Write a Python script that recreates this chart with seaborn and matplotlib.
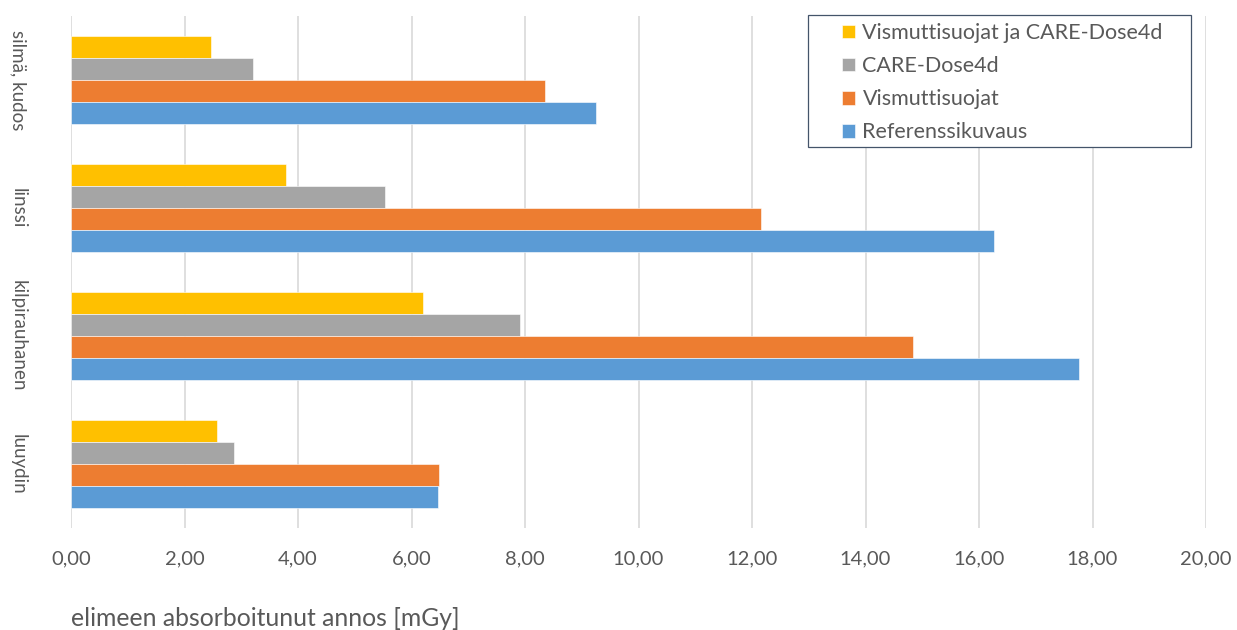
import matplotlib
matplotlib.use("Agg")
import matplotlib.pyplot as plt
import seaborn as sns
import pandas as pd
from matplotlib.patches import Rectangle
from matplotlib.ticker import FuncFormatter, MultipleLocator

organs = ["silmä, kudos", "linssi", "kilpirauhanen", "luuydin"]
series = ["Vismuttisuojat ja CARE-Dose4d", "CARE-Dose4d", "Vismuttisuojat", "Referenssikuvaus"]
vismutti_care = [2.47, 3.79, 6.20, 2.57]
care_dose = [3.20, 5.53, 7.92, 2.87]
vismutti = [8.36, 12.16, 14.83, 6.48]
referenssi = [9.25, 16.26, 17.76, 6.47]
colors = ["#FFC000", "#A5A5A5", "#ED7D31", "#5B9BD5"]

rows = []
for name, vals in zip(series, [vismutti_care, care_dose, vismutti, referenssi]):
    for organ, v in zip(organs, vals):
        rows.append({"elin": organ, "sarja": name, "annos": v})
df = pd.DataFrame(rows)

sns.set_theme(style="white")
plt.rcParams["font.family"] = ["Lato", "DejaVu Sans"]
text_color = "#595959"

W, H = 1237, 630
fig = plt.figure(figsize=(W / 100, H / 100), dpi=100)
ax = fig.add_axes([71 / W, 1 - 528 / H, (1206 - 71) / W, 512 / H])

sns.barplot(data=df, y="elin", x="annos", hue="sarja", order=organs,
            hue_order=series, palette=colors, saturation=1, orient="h",
            width=0.6875, gap=0, edgecolor="white", linewidth=0.4, ax=ax)

ax.set_xlim(0, 20)
ax.set_ylim(3.5, -0.5)
ax.xaxis.set_major_locator(MultipleLocator(2))
ax.xaxis.set_major_formatter(FuncFormatter(lambda v, p: f"{v:.2f}".replace(".", ",")))
ax.grid(axis="x", color="#D9D9D9", linewidth=1.2)
ax.grid(axis="y", visible=False)
ax.set_axisbelow(True)
for s in ax.spines.values():
    s.set_visible(False)
ax.tick_params(axis="both", length=0, colors=text_color, labelsize=14.5)
ax.tick_params(axis="x", pad=16)
ax.tick_params(axis="y", pad=38)
for lab in ax.get_yticklabels():
    lab.set_rotation(-90)
    lab.set_va("center")
    lab.set_ha("center")
    lab.set_fontsize(13.5)
ax.set_ylabel("")
ax.set_xlabel("")
fig.text(71 / W, 1 - 618 / H, "elimeen absorboitunut annos [mGy]",
         fontsize=17.8, color=text_color, ha="left", va="center")

# legend box with the entries inset from its left edge
ax.get_legend().remove()
handles, labels = ax.get_legend_handles_labels()
fig.patches.append(Rectangle((808 / W, 1 - 147 / H), (1191 - 808) / W, (147 - 15) / H,
                             transform=fig.transFigure, facecolor="white",
                             edgecolor="#44546A", linewidth=0.9, zorder=5))
leg = fig.legend(handles, labels, loc="upper left",
                 bbox_to_anchor=(842 / W, 1 - 23 / H), frameon=False,
                 fontsize=15.5, handlelength=0.6, handleheight=0.6,
                 handletextpad=0.35, labelspacing=0.61, borderpad=0,
                 borderaxespad=0, labelcolor=text_color)
leg.set_zorder(6)

fig.savefig("out.png", dpi=100, facecolor="white")
